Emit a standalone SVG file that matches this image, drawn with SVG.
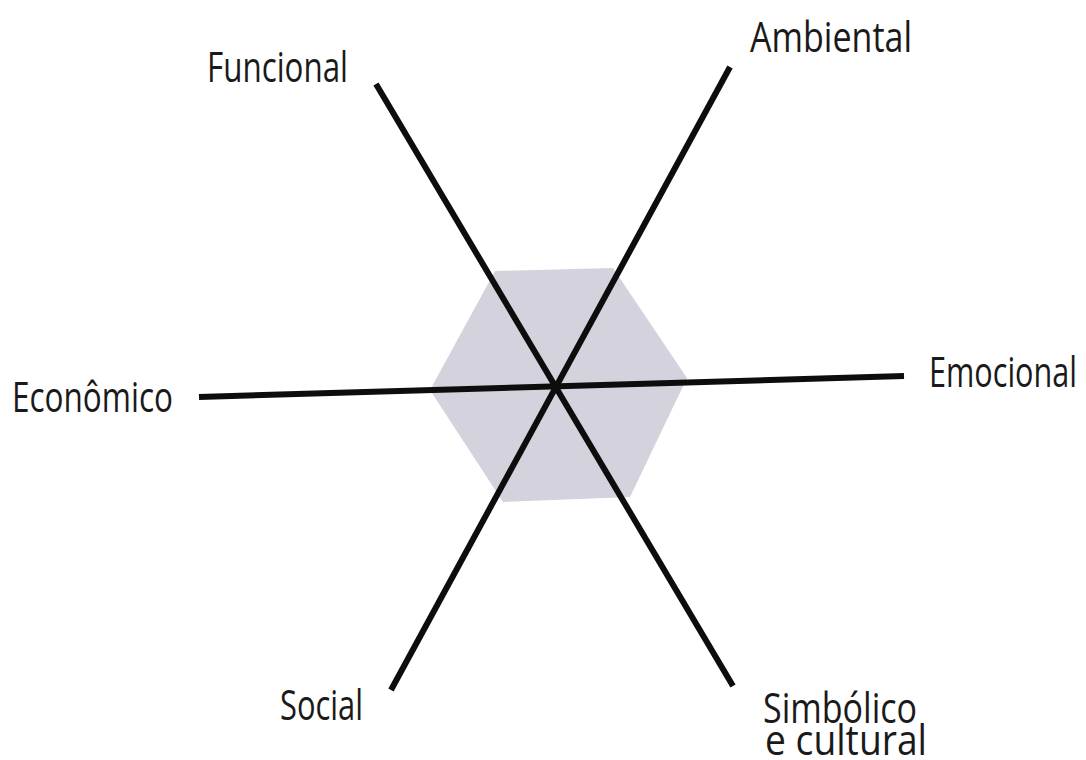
<svg xmlns="http://www.w3.org/2000/svg" width="1086" height="760" viewBox="0 0 1086 760">
<style>
.lbl{font-family:"Open Sans","Noto Sans","Liberation Sans",sans-serif;font-size:42px;fill:#1a1a1a}
.ax{stroke:#0d0d0d;stroke-width:6;stroke-linecap:butt;fill:none}
</style>
<rect width="1086" height="760" fill="#ffffff"/>
<g id="hexagon">
<polygon points="495,271 613,268 687,378 630,497 503,502 430,390" fill="#d4d2dc"/>
</g>
<g id="connectors">
<line class="ax" x1="376" y1="84" x2="733" y2="686"/>
<line class="ax" x1="730" y1="67" x2="391" y2="690"/>
<line class="ax" x1="199" y1="397" x2="904" y2="376"/>
</g>
<g id="funcional"><text class="lbl" x="207" y="82" textLength="141" lengthAdjust="spacingAndGlyphs">Funcional</text></g>
<g id="ambiental"><text class="lbl" x="750" y="52" textLength="162" lengthAdjust="spacingAndGlyphs">Ambiental</text></g>
<g id="economico"><text class="lbl" x="12" y="412" textLength="161" lengthAdjust="spacingAndGlyphs">Econômico</text></g>
<g id="emocional"><text class="lbl" x="929" y="387" textLength="148" lengthAdjust="spacingAndGlyphs">Emocional</text></g>
<g id="social"><text class="lbl" x="280" y="720" textLength="83" lengthAdjust="spacingAndGlyphs">Social</text></g>
<g id="simbolico"><text class="lbl" x="763" y="723" textLength="154" lengthAdjust="spacingAndGlyphs">Simbólico</text><text class="lbl" x="765" y="755" textLength="162" lengthAdjust="spacingAndGlyphs">e cultural</text></g>
</svg>
